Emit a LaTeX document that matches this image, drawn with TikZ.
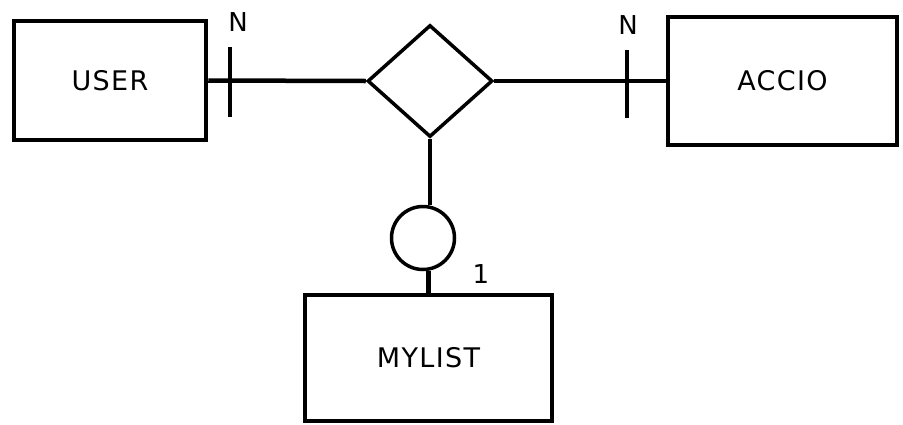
\documentclass[tikz,border=0pt]{standalone}
\usepackage{fontspec}
\setmainfont{DejaVu Sans}
\newfontfamily\lblfont[LetterSpace=5]{DejaVu Sans}
\usetikzlibrary{shapes.geometric}
\begin{document}
\begin{tikzpicture}[x=1pt,y=-1pt,
  entity/.style={draw,line width=4.5pt,rectangle,inner sep=0pt,font=\lblfont\fontsize{27}{27}\selectfont},
  rel/.style={draw,line width=3.5pt,diamond,inner sep=0pt,minimum width=125pt,minimum height=112pt},
  conn/.style={line width=4.5pt},
  card/.style={font=\fontsize{26}{26}\selectfont,inner sep=0pt}]
\useasboundingbox (0,0) rectangle (903,424);
\node[entity,minimum width=192pt,minimum height=119pt] (user) at (110,80.5) {USER};
\node[entity,minimum width=229pt,minimum height=128pt] (accio) at (782.5,81) {ACCIO};
\node[entity,minimum width=247pt,minimum height=126pt] (mylist) at (428.5,358) {MYLIST};
\node[rel] (r) at (430,81) {};
\node[draw,circle,line width=3.5pt,minimum size=63pt,inner sep=0pt] (c) at (423,238) {};
\draw[conn] (user.east) -- (r.west);
\draw[conn] (r.east) -- (accio.west);
\draw[conn] (r.south) -- (r.south |- c.north);
\draw[conn] (mylist.north) -- (mylist.north |- c.south);
\coordinate (t1a) at (230,47); \coordinate (t1b) at (230,117);
\coordinate (t2a) at (627,50); \coordinate (t2b) at (627,118);
\draw[conn] (t1a) -- (t1b);
\draw[conn] (t2a) -- (t2b);
\node[card] (n1) at (238,22) {N};
\node[card] (n2) at (628,25) {N};
\node[card] (one) at (481,274) {1};
\end{tikzpicture}
\end{document}
